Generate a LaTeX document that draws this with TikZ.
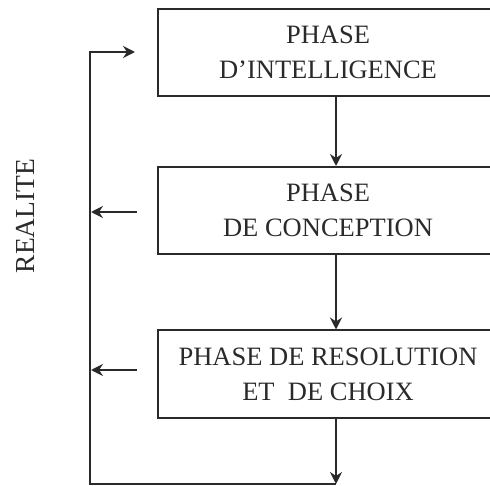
\documentclass[tikz,border=0pt]{standalone}
\usepackage{fontspec}
\setmainfont{Liberation Serif}
\usetikzlibrary{arrows.meta}
\definecolor{ink}{HTML}{2A2A2A}
\tikzset{
  phasebox/.style={draw=ink, line width=2pt, minimum width=340pt, minimum height=87pt,
    align=center, inner sep=0pt, text=ink, font=\fontsize{26.5}{35}\selectfont},
  arr/.style={draw=ink, line width=2pt, -{Stealth[length=12pt,width=12pt,inset=4pt]}},
}
\begin{document}
\begin{tikzpicture}[x=1pt,y=-1pt]
\clip (0,0) rectangle (490,486);
\useasboundingbox (0,0) rectangle (490,486);
\node[phasebox] (b1) at (328,52.5) {PHASE\\D’INTELLIGENCE};
\node[phasebox] (b2) at (328,210.5) {PHASE\\DE CONCEPTION};
\node[phasebox] (b3) at (328,374) {PHASE DE RESOLUTION\\ET\ \ DE CHOIX};
\node[rotate=90, text=ink, font=\fontsize{27.5}{30}\selectfont] (real) at (25,216) {REALITE};
\coordinate (bot) at (336,484);
\coordinate (botl) at (90,484);
\coordinate (topl) at (90,52);
\coordinate (topend) at (135,52);
\coordinate (m2) at (91,212);
\coordinate (m3) at (91,370);
\coordinate (s2) at (137,212);
\coordinate (s3) at (137,370);
\draw[arr] ([xshift=8pt]b1.south) -- ([xshift=8pt]b2.north);
\draw[arr] ([xshift=8pt]b2.south) -- ([xshift=8pt]b3.north);
\draw[arr] ([xshift=8pt]b3.south) -- (bot);
\draw[arr] (bot) -- (botl) -- (topl) -- (topend);
\draw[arr] (s2) -- (m2);
\draw[arr] (s3) -- (m3);
\end{tikzpicture}
\end{document}
